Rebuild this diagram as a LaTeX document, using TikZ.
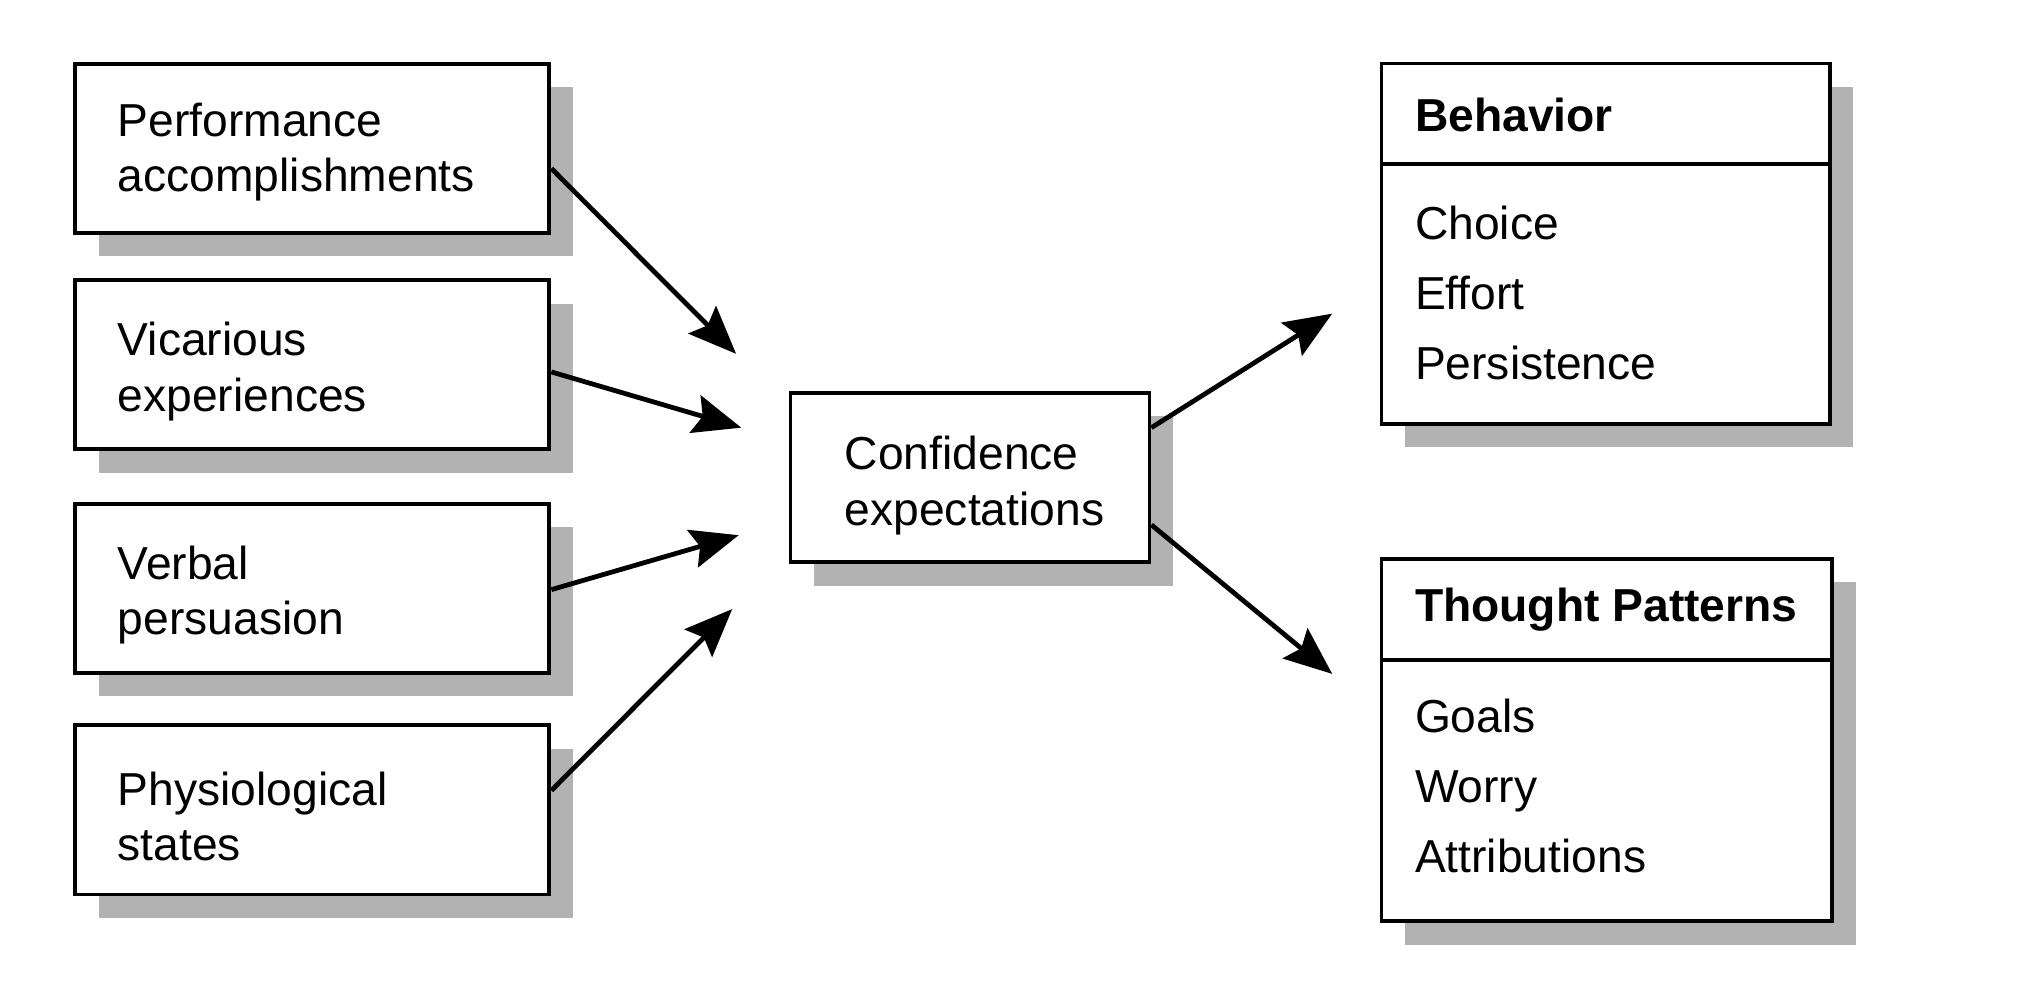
\documentclass[tikz,border=0pt]{standalone}
\usepackage{fontspec}
\setmainfont{Liberation Sans}
\usetikzlibrary{arrows.meta,shadows}

\begin{document}
\begin{tikzpicture}[x=0.02cm,y=-0.02cm,
  box/.style={draw=black, line width=1.7pt, fill=white, inner sep=0pt,
    drop shadow={shadow xshift=0.36cm, shadow yshift=-0.36cm, fill=black!30, opacity=1}},
  srcbox/.style={box, minimum width=7.32cm, minimum height=2.61cm},
  txt/.style={font=\fontsize{20.3pt}{24.4pt}\selectfont, align=left, inner sep=0pt, anchor=west},
  head/.style={font=\fontsize{20.3pt}{24.4pt}\selectfont\bfseries, inner sep=0pt, anchor=west},
  items/.style={font=\fontsize{20.3pt}{30.6pt}\selectfont, align=left, inner sep=0pt, anchor=west},
  divider/.style={line width=1.7pt},
  arr/.style={line width=2.1pt, -{Stealth[length=0.74cm, width=0.6cm, inset=0.12cm]}}
]
\useasboundingbox (0,0) rectangle (1568,771);

% sources of confidence
\node[srcbox] (p1) at (241,114.5) {};
\node[txt] (p1t) at ([xshift=0.68cm,yshift=-0.06cm]p1.west) {Performance\\accomplishments};
\node[srcbox] (p2) at (241,281.5) {};
\node[txt] (p2t) at ([xshift=0.68cm,yshift=-0.1cm]p2.west) {Vicarious\\experiences};
\node[srcbox] (p3) at (241,454) {};
\node[txt] (p3t) at ([xshift=0.68cm,yshift=-0.1cm]p3.west) {Verbal\\persuasion};
\node[srcbox] (p4) at (241,625) {};
\node[txt] (p4t) at ([xshift=0.68cm,yshift=-0.1cm]p4.west) {Physiological\\states};

% central box
\node[box, minimum width=5.54cm, minimum height=2.62cm] (c) at (748.5,368.5) {};
\node[txt] (ct) at ([xshift=0.86cm,yshift=-0.12cm]c.west) {Confidence\\expectations};

% outcomes
\node[box, minimum width=6.92cm, minimum height=5.56cm] (beh) at (1239,188) {};
\draw[divider] ([yshift=-1.58cm]beh.north west) -- ([yshift=-1.58cm]beh.north east);
\node[head] (behh) at ([xshift=0.54cm,yshift=-0.83cm]beh.north west) {Behavior};
\node[items] (behi) at ([xshift=0.54cm,yshift=-3.57cm]beh.north west) {Choice\\Effort\\Persistence};

\node[box, minimum width=6.96cm, minimum height=5.6cm] (tho) at (1240,571) {};
\draw[divider] ([yshift=-1.6cm]tho.north west) -- ([yshift=-1.6cm]tho.north east);
\node[head] (thoh) at ([xshift=0.54cm,yshift=-0.82cm]tho.north west) {Thought Patterns};
\node[items] (thoi) at ([xshift=0.54cm,yshift=-3.54cm]tho.north west) {Goals\\Worry\\Attributions};

% arrow tips
\coordinate (t1) at (568,273);
\coordinate (t2) at (572,330);
\coordinate (t3) at (570,413);
\coordinate (t4) at (565,470);
\coordinate (t5) at (1028,242);
\coordinate (t6) at (1028,520);

\draw[arr] ([yshift=-0.31cm]p1.east) -- (t1);
\draw[arr] ([yshift=-0.11cm]p2.east) -- (t2);
\draw[arr] ([yshift=-0.02cm]p3.east) -- (t3);
\draw[arr] ([yshift=0.3cm]p4.east) -- (t4);
\draw[arr] ([yshift=0.77cm]c.east) -- (t5);
\draw[arr] ([yshift=-0.73cm]c.east) -- (t6);
\end{tikzpicture}
\end{document}
